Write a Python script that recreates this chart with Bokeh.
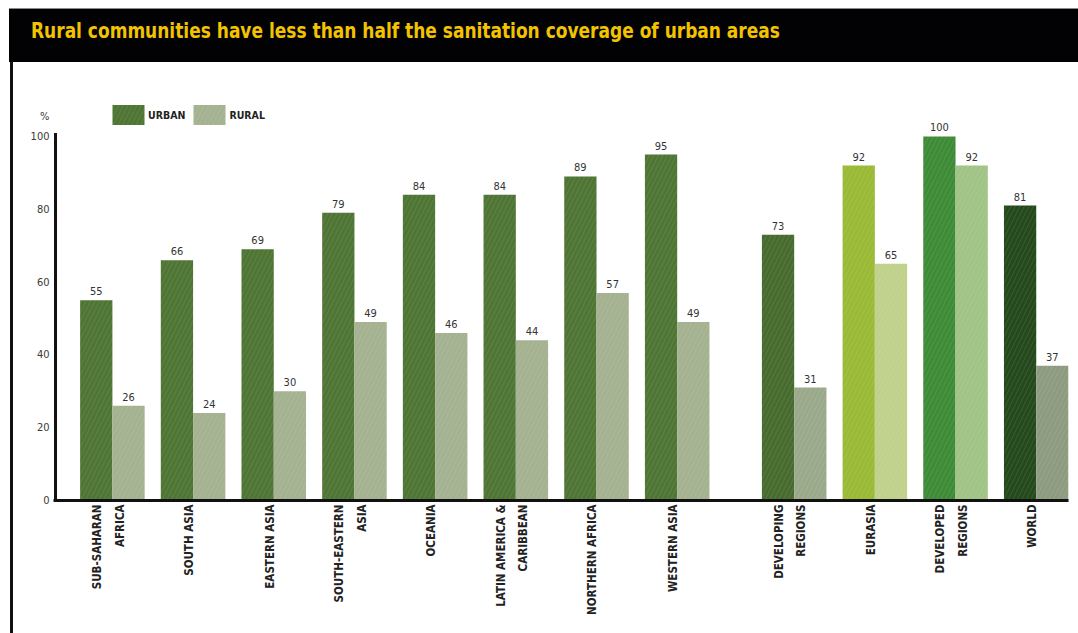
import math

from bokeh.core.properties import value
from bokeh.embed import file_html
from bokeh.layouts import column, row
from bokeh.models import (ColumnDataSource, Div, FixedTicker, Legend,
                          LegendItem, Range1d)
from bokeh.plotting import figure
from bokeh.resources import INLINE

# ---- data -----------------------------------------------------------------
regions = [
    "SUB-SAHARAN AFRICA", "SOUTH ASIA", "EASTERN ASIA", "SOUTH-EASTERN ASIA",
    "OCEANIA", "LATIN AMERICA & CARIBBEAN", "NORTHERN AFRICA", "WESTERN ASIA",
    "DEVELOPING REGIONS", "EURASIA", "DEVELOPED REGIONS", "WORLD",
]
tick_labels = [
    "SUB-SAHARAN\nAFRICA", "SOUTH ASIA", "EASTERN ASIA", "SOUTH-EASTERN\nASIA",
    "OCEANIA", "LATIN AMERICA &\nCARIBBEAN", "NORTHERN AFRICA", "WESTERN ASIA",
    "DEVELOPING\nREGIONS", "EURASIA", "DEVELOPED\nREGIONS", "WORLD",
]
urban = [55, 66, 69, 79, 84, 84, 89, 95, 73, 92, 100, 81]
rural = [26, 24, 30, 49, 46, 44, 57, 49, 31, 65, 92, 37]
y_ticks = [0, 20, 40, 60, 80, 100]
unit_label = "%"

# ---- styling --------------------------------------------------------------
urban_colors = ["#4f7534"] * 8 + ["#476b2f", "#9aba36", "#3e8b37", "#24491c"]
rural_colors = ["#a5b291"] * 8 + ["#9ba98b", "#c0d18c", "#a0c386", "#8d9c81"]
TITLE = "Rural communities have less than half the sanitation coverage of urban areas"
LABEL_FONT = "DejaVu Sans Condensed"

# the regional groups sit side by side; the aggregates follow after a gap
GAP = 0.45
BAR_W = 0.4
pos = [i if i < 8 else i + GAP for i in range(len(regions))]

src = ColumnDataSource(dict(
    region=regions,
    xu=[q - BAR_W / 2 for q in pos],
    xr=[q + BAR_W / 2 for q in pos],
    urban=urban,
    rural=rural,
    urban_txt=[str(v) for v in urban],
    rural_txt=[str(v) for v in rural],
    uc=urban_colors,
    rc=rural_colors,
))

X0, X1 = -0.73, 11.85
p = figure(
    width=1065, height=571,
    x_range=Range1d(X0, X1), y_range=Range1d(0, 112.6),
    output_backend="svg", toolbar_location=None,
    min_border_left=40, min_border_right=10,
    min_border_top=28, min_border_bottom=133,
)
p.outline_line_color = None
p.grid.visible = False
p.background_fill_color = "white"
p.border_fill_color = "white"

# grass-like streaks on the bars
streaks = dict(hatch_pattern="/", hatch_scale=9, hatch_weight=0.7,
               hatch_color="#e8f0d8", hatch_alpha=0.16)
ur = p.vbar(x="xu", top="urban", width=BAR_W, bottom=0, source=src,
            fill_color="uc", line_color=None, **streaks)
rr = p.vbar(x="xr", top="rural", width=BAR_W, bottom=0, source=src,
            fill_color="rc", line_color=None, **streaks)

for xcol, tcol, ycol in (("xu", "urban_txt", "urban"), ("xr", "rural_txt", "rural")):
    p.text(x=xcol, y=ycol, text=tcol, source=src, text_align="center",
           text_baseline="bottom", y_offset=-5, text_font_size="11px",
           text_font=value(LABEL_FONT), text_color="#333333")

# left spine (stops at the 100 mark)
spine_x = X0 + 0.025
p.segment(x0=[spine_x], y0=[0], x1=[spine_x], y1=[100.9],
          line_width=3, line_color="#111111")

# y axis: labels only, with the unit sitting above the scale
unit_y = 105.5
yax = p.yaxis[0]
yax.ticker = FixedTicker(ticks=y_ticks + [unit_y])
yax.major_label_overrides = {unit_y: unit_label}
yax.axis_line_color = None
yax.major_tick_line_color = None
yax.minor_tick_line_color = None
yax.major_tick_out = 0
yax.major_tick_in = 0
yax.major_label_standoff = 4
yax.major_label_text_font = LABEL_FONT
yax.major_label_text_font_size = "11px"
yax.major_label_text_color = "#3a3a3a"

# x axis: vertical region names under each pair of bars
tick_pos = [round(q - 0.05, 3) for q in pos]
xax = p.xaxis[0]
xax.ticker = FixedTicker(ticks=tick_pos)
xax.major_label_overrides = {t: lab for t, lab in zip(tick_pos, tick_labels)}
xax.axis_line_width = 3
xax.axis_line_color = "#111111"
xax.major_tick_line_color = None
xax.minor_tick_line_color = None
xax.major_tick_out = 0
xax.major_tick_in = 0
xax.major_label_orientation = math.pi / 2
xax.major_label_standoff = 4
xax.major_label_text_font = LABEL_FONT
xax.major_label_text_font_style = "bold"
xax.major_label_text_font_size = "11.5px"
xax.major_label_text_color = "#222222"
xax.major_label_text_line_height = 1.6

legend = Legend(
    items=[LegendItem(label="URBAN", renderers=[ur], index=0),
           LegendItem(label="RURAL", renderers=[rr], index=0)],
    orientation="horizontal", location=(55, 373),
    glyph_width=40, glyph_height=25, label_height=25,
    padding=0, margin=0, spacing=4, label_standoff=0,
    border_line_color=None, background_fill_alpha=0,
    label_text_font=LABEL_FONT, label_text_font_style="bold",
    label_text_font_size="10.5px", label_text_color="#222222",
)
p.add_layout(legend)

header = Div(
    width=1069, height=54, margin=(8, 0, 0, 9),
    text=(
        '<div style="width:1069px;height:54px;box-sizing:border-box;'
        'background:#020204;border-top:1px solid #8a8a8a;'
        'padding:10px 0 0 22px;color:#f2c300;'
        "font-family:'DejaVu Sans Condensed',sans-serif;"
        'font-weight:bold;font-size:22px;line-height:24px;white-space:nowrap;">'
        '<span style="display:inline-block;transform:scaleX(0.86);'
        'transform-origin:0 0;">' + TITLE + '</span></div>'
    ),
)
border = Div(
    width=3, height=571, margin=(0, 0, 0, 10),
    text='<div style="width:3px;height:571px;background:#111111;"></div>',
)

layout = column(header, row(border, p, spacing=0), spacing=0)

open("out.html", "w").write(file_html(layout, INLINE))
